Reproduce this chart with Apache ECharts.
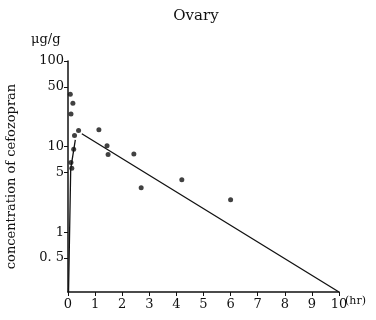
<!DOCTYPE html>
<html>
<head>
<meta charset="utf-8">
<script src="https://cdn.jsdelivr.net/npm/echarts@6/dist/echarts.min.js"></script>
<style>
  html, body { margin: 0; padding: 0; background: #fff; }
  #chart { width: 376px; height: 320px; }
</style>
</head>
<body>
<div id="chart"></div>
<script>
// observed concentrations (hr, ug/g)
const obsHours = [0.085, 0.18, 0.11, 0.39, 0.24, 0.21, 0.11, 0.14, 1.14, 1.44, 1.48, 2.43, 2.7, 4.2, 6.0]
const obsConc = [41, 32, 24, 15.4, 13.5, 9.3, 6.5, 5.6, 15.7, 10.2, 8.1, 8.2, 3.3, 4.1, 2.4]
// fitted curves
const riseHours = [0.02, 0.1, 0.27]
const riseConc = [0.2, 5.5, 12]
const fallHours = [0.51, 10]
const fallConc = [14.1, 0.2]
// axis ticks
const yTickValues = [0.5, 1, 5, 10, 50, 100]
const yTickLabels = ['0. 5', '1', '5', '10', '50', '100']

const lg = v => Math.log10(v)
const pairs = (xs, ys) => xs.map((x, i) => [x, lg(ys[i])])
const serif = '"DejaVu Serif", "Liberation Serif", serif'

const chart = echarts.init(document.getElementById('chart'))
chart.setOption({
  animation: false,
  backgroundColor: '#fff',
  title: {
    text: 'Ovary',
    left: 191, top: 4, textAlign: 'center',
    textStyle: { fontFamily: serif, fontWeight: 'normal', fontSize: 15, color: '#111' }
  },
  grid: { left: 68, right: 37, top: 61, bottom: 28, outerBoundsMode: 'none' },
  xAxis: {
    type: 'value', min: 0, max: 10, interval: 1,
    axisLine: { onZero: false, lineStyle: { color: '#111', width: 1.5 } },
    axisTick: { length: 4, lineStyle: { color: '#111' } },
    axisLabel: { fontFamily: serif, fontSize: 13, color: '#111', margin: 6 },
    splitLine: { show: false }
  },
  yAxis: {
    type: 'value', min: lg(0.2), max: 2,
    name: 'concentration of cefozopran',
    nameLocation: 'middle', nameRotate: 90, nameGap: 50,
    nameTextStyle: { fontFamily: serif, fontSize: 13, color: '#111' },
    axisLine: { show: true, onZero: false, lineStyle: { color: '#111', width: 1.5 } },
    axisTick: { show: true, length: 4, customValues: yTickValues.map(lg), lineStyle: { color: '#111' } },
    axisLabel: {
      fontFamily: serif, fontSize: 13, color: '#111', margin: 4,
      customValues: yTickValues.map(lg),
      formatter: v => {
        const i = yTickValues.findIndex(t => Math.abs(lg(t) - v) < 1e-6)
        return i >= 0 ? yTickLabels[i] : ''
      }
    },
    splitLine: { show: false }
  },
  graphic: [
    { type: 'text', left: 31, top: 33, style: { text: 'μg/g', font: '13px ' + serif, fill: '#111' } },
    { type: 'text', left: 345, top: 296, style: { text: '(hr)', font: '11px ' + serif, fill: '#111' } }
  ],
  series: [
    {
      type: 'scatter', data: pairs(obsHours, obsConc),
      symbolSize: 5, itemStyle: { color: '#111' }
    },
    {
      type: 'line', data: pairs(riseHours, riseConc), showSymbol: false,
      lineStyle: { color: '#111', width: 1.3 }
    },
    {
      type: 'line', data: pairs(fallHours, fallConc), showSymbol: false,
      lineStyle: { color: '#111', width: 1.3 }
    }
  ]
})
</script>
</body>
</html>
